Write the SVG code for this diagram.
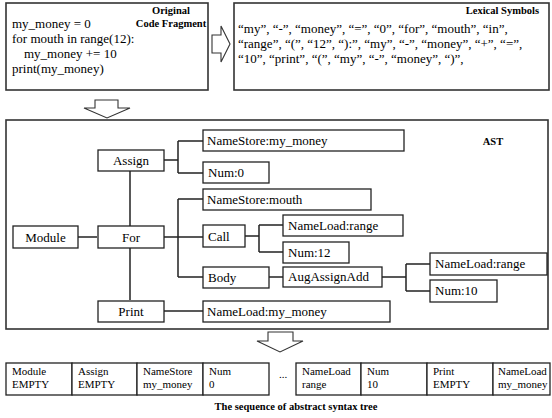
<svg xmlns="http://www.w3.org/2000/svg" width="552" height="418" viewBox="0 0 552 418">
<style>
text{font-family:"Liberation Serif","Times New Roman",serif;fill:#000}
.b{font-weight:bold;font-size:10.5px}
.code{font-size:13px}
.lex{font-size:13px}
.n{font-size:13px}
.s{font-size:11px}
.box{fill:#fff;stroke:#222;stroke-width:1.3}
.frame{fill:#fff;stroke:#333;stroke-width:1.6}
.arr{fill:#fff;stroke:#333;stroke-width:1.1}
.c{fill:none;stroke:#222;stroke-width:1.5}
</style>
<rect width="552" height="418" fill="#fff"/>
<g id="code">
<rect class="frame" x="6" y="3" width="202" height="87"/>
<text class="b" x="171" y="14" text-anchor="middle">Original</text>
<text class="b" x="171" y="27" text-anchor="middle">Code Fragment</text>
<text class="code" x="12" y="28">my_money = 0</text>
<text class="code" x="12" y="43">for mouth in range(12):</text>
<text class="code" x="24" y="58">my_money += 10</text>
<text class="code" x="12" y="73">print(my_money)</text>
</g>
<polygon class="arr" points="212,35 221,35 221,26 230,44 221,62 221,53 212,53"/>
<g id="lexical">
<rect class="frame" x="234" y="3" width="315" height="87"/>
<text class="b" x="539" y="14" text-anchor="end">Lexical Symbols</text>
<text class="lex" x="238" y="33">“my”, “-”, “money”, “=”, “0”, “for”, “mouth”, “in”,</text>
<text class="lex" x="238" y="48">“range”, “(”, “12”, “):”, “my”, “-”, “money”, “+”, “=”,</text>
<text class="lex" x="238" y="63">“10”, “print”, “(”, “my”, “-”, “money”, “)”,</text>
</g>
<polygon class="arr" points="95,100 118,100 118,108 130,108 107,118 84,108 95,108"/>
<g id="ast">
<rect class="frame" x="6" y="120" width="542" height="209"/>
<text class="b" x="493" y="145" text-anchor="middle">AST</text>
</g>
<g id="connectors">
<path class="c" d="M78,237H97"/>
<path class="c" d="M130,171V300"/>
<path class="c" d="M164,160H178M178,141V173M178,141H203M178,173H203"/>
<path class="c" d="M164,237H203M178,199V277M178,199H203M178,277H203"/>
<path class="c" d="M245,236H259M259,225V252M259,225H283M259,252H283"/>
<path class="c" d="M269,277H283"/>
<path class="c" d="M382,277H406M406,264V291M406,264H430M406,291H430"/>
<path class="c" d="M164,311H203"/>
</g>
<g id="node-module"><rect class="box" x="13" y="226" width="65" height="22"/><text class="n" x="45.5" y="241.5" text-anchor="middle">Module</text></g>
<g id="node-assign"><rect class="box" x="98" y="150" width="66" height="21"/><text class="n" x="131" y="164.5" text-anchor="middle">Assign</text></g>
<g id="node-for"><rect class="box" x="98" y="226" width="66" height="22"/><text class="n" x="131" y="241.5" text-anchor="middle">For</text></g>
<g id="node-print"><rect class="box" x="98" y="301" width="66" height="21"/><text class="n" x="131" y="315.5" text-anchor="middle">Print</text></g>
<g id="node-namestore-mymoney"><rect class="box" x="203" y="130" width="201" height="21"/><text class="n" x="207" y="144.5">NameStore:my_money</text></g>
<g id="node-num0"><rect class="box" x="203" y="162" width="66" height="21"/><text class="n" x="208" y="176.5">Num:0</text></g>
<g id="node-namestore-mouth"><rect class="box" x="203" y="189" width="168" height="21"/><text class="n" x="207" y="203.5">NameStore:mouth</text></g>
<g id="node-call"><rect class="box" x="203" y="225" width="42" height="22"/><text class="n" x="208" y="240.5">Call</text></g>
<g id="node-nameload-range1"><rect class="box" x="283" y="215" width="120" height="21"/><text class="n" x="288" y="229.5">NameLoad:range</text></g>
<g id="node-num12"><rect class="box" x="283" y="242" width="66" height="21"/><text class="n" x="288" y="256.5">Num:12</text></g>
<g id="node-body"><rect class="box" x="203" y="267" width="66" height="21"/><text class="n" x="208" y="281.5">Body</text></g>
<g id="node-augassignadd"><rect class="box" x="283" y="267" width="99" height="20"/><text class="n" x="288" y="281">AugAssignAdd</text></g>
<g id="node-nameload-range2"><rect class="box" x="430" y="253" width="117" height="22"/><text class="n" x="435" y="268">NameLoad:range</text></g>
<g id="node-num10"><rect class="box" x="430" y="280" width="67" height="22"/><text class="n" x="435" y="295">Num:10</text></g>
<g id="node-nameload-mymoney"><rect class="box" x="203" y="301" width="187" height="21"/><text class="n" x="207" y="315.5">NameLoad:my_money</text></g>
<polygon class="arr" points="268,332 293,332 293,341 303,341 280,352 257,341 268,341"/>
<g id="sequence">
<g id="seq-1"><rect class="box" x="6" y="363" width="66" height="32"/><text class="s" x="12" y="375">Module</text><text class="s" x="12" y="388">EMPTY</text></g>
<g id="seq-2"><rect class="box" x="72" y="363" width="65" height="32"/><text class="s" x="78" y="375">Assign</text><text class="s" x="78" y="388">EMPTY</text></g>
<g id="seq-3"><rect class="box" x="137" y="363" width="66" height="32"/><text class="s" x="143" y="375">NameStore</text><text class="s" x="143" y="388">my_money</text></g>
<g id="seq-4"><rect class="box" x="203" y="363" width="66" height="32"/><text class="s" x="209" y="375">Num</text><text class="s" x="209" y="388">0</text></g>
<text class="s" x="283" y="378" text-anchor="middle">...</text>
<g id="seq-5"><rect class="box" x="296" y="363" width="65" height="32"/><text class="s" x="302" y="375">NameLoad</text><text class="s" x="302" y="388">range</text></g>
<g id="seq-6"><rect class="box" x="361" y="363" width="66" height="32"/><text class="s" x="367" y="375">Num</text><text class="s" x="367" y="388">10</text></g>
<g id="seq-7"><rect class="box" x="427" y="363" width="66" height="32"/><text class="s" x="433" y="375">Print</text><text class="s" x="433" y="388">EMPTY</text></g>
<g id="seq-8"><rect class="box" x="493" y="363" width="57" height="32"/><text class="s" x="498" y="375">NameLoad</text><text class="s" x="498" y="388">my_money</text></g>
</g>
<text class="b" x="296" y="410" text-anchor="middle">The sequence of abstract syntax tree</text>
</svg>
